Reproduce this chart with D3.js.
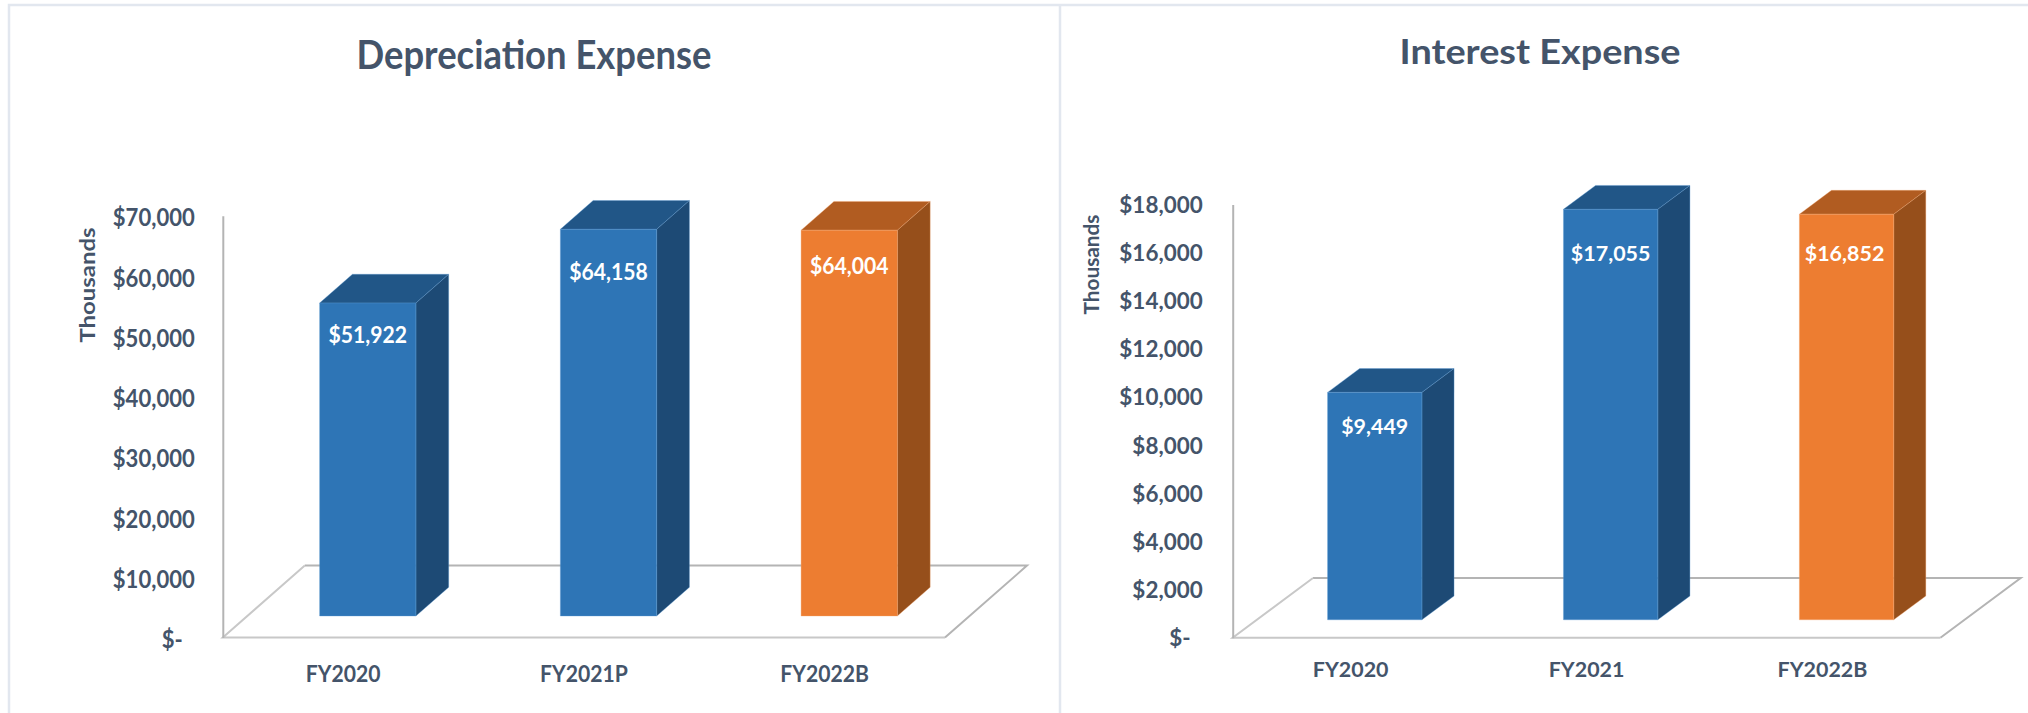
<!DOCTYPE html>
<html>
<head>
<meta charset="utf-8">
<script src="https://cdn.jsdelivr.net/npm/d3@7"></script>
<style>
  html, body { margin: 0; background: #fff; }
  svg { display: block; }
  text { font-family: Lato, "Open Sans", sans-serif; font-weight: 700; fill: #44546a; }
</style>
</head>
<body>
<div id="chart"></div>
<script>
const depreciationCategories = ["FY2020", "FY2021P", "FY2022B"];
const depreciationValues = [51922, 64158, 64004];
const depreciationTicks = [0, 10000, 20000, 30000, 40000, 50000, 60000, 70000];

const interestCategories = ["FY2020", "FY2021", "FY2022B"];
const interestValues = [9449, 17055, 16852];
const interestTicks = [0, 2000, 4000, 6000, 8000, 10000, 12000, 14000, 16000, 18000];

const width = 2028;
const height = 713;

const svg = d3.select("#chart").append("svg")
  .attr("width", width)
  .attr("height", height);

// panel border
const borderColor = "#e2e7ef";
svg.append("path")
  .attr("d", d3.line()([[9, height], [9, 5], [width, 5]]))
  .attr("fill", "none")
  .attr("stroke", borderColor)
  .attr("stroke-width", 2.5);
svg.append("line")
  .attr("x1", 1060).attr("x2", 1060)
  .attr("y1", 5).attr("y2", height)
  .attr("stroke", borderColor)
  .attr("stroke-width", 2.5);

const blue = { front: "#2e75b6", top: "#215687", side: "#1d4a75", edge: "#5b9bd5" };
const orange = { front: "#ed7d31", top: "#b15c21", side: "#964f1b", edge: "#f4a56f" };

const tickFormat = d => d === 0 ? "$-" : "$" + d3.format(",")(d);

// the reference text is stretched differently in each panel
const fitWidth = (selection, factor) => {
  selection.each(function() {
    d3.select(this)
      .attr("textLength", this.getComputedTextLength() * factor)
      .attr("lengthAdjust", "spacingAndGlyphs");
  });
};

const drawChart = (c) => {
  // the floor is a parallelogram, bars stand between 30% and 70% of its depth
  const xScale = d3.scaleBand()
    .domain(c.categories)
    .range([c.left, c.right])
    .paddingInner(0.6)
    .paddingOuter(0.3);

  const yScale = d3.scaleLinear()
    .domain([0, d3.max(c.ticks)])
    .range([c.bottom, c.top]);

  const g = svg.append("g");

  const floor = [
    [c.left, c.bottom],
    [c.left + c.depthX, c.bottom - c.depthY],
    [c.right + c.depthX, c.bottom - c.depthY],
    [c.right, c.bottom]
  ];
  g.append("path")
    .attr("d", d3.line()(floor.slice(1, 4)))
    .attr("fill", "none")
    .attr("stroke", "#b4b4b4")
    .attr("stroke-width", 2);
  g.append("path")
    .attr("d", d3.line()([floor[1], floor[0], floor[3]]))
    .attr("fill", "none")
    .attr("stroke", "#c8c8c8")
    .attr("stroke-width", 2);

  const yAxis = g.append("g")
    .attr("transform", `translate(${c.left},0)`)
    .call(d3.axisLeft(yScale)
      .tickValues(c.ticks)
      .tickFormat(tickFormat)
      .tickSize(0)
      .tickPadding(c.tickPad));
  yAxis.select(".domain")
    .attr("stroke", "#b4b4b4")
    .attr("stroke-width", 2);
  yAxis.selectAll("text")
    .attr("font-size", null)
    .style("font-size", c.textSize + "px")
    .attr("dy", c.tickDy)
    .attr("dx", d => d === 0 ? -12 : 0)
    .call(fitWidth, c.squeeze);

  const xAxis = g.append("g")
    .attr("transform", `translate(0,${c.bottom})`)
    .call(d3.axisBottom(xScale).tickSize(0).tickPadding(c.catPad));
  xAxis.select(".domain").remove();
  xAxis.selectAll("text")
    .style("font-size", c.catSize + "px")
    .call(fitWidth, c.squeeze);

  const frontX = d => xScale(d.cat) + c.depthX * 0.3;
  const barW = xScale.bandwidth();
  const ox = c.depthX * 0.4;
  const oy = c.depthY * 0.4;
  const base = -c.depthY * 0.3;

  const rows = c.categories.map((cat, i) => ({ cat, value: c.values[i], color: i === 2 ? orange : blue, i }));

  const bars = g.selectAll(".bar")
    .data(rows)
    .join("g")
      .attr("class", "bar");

  const faces = (d) => {
    const x0 = frontX(d);
    const x1 = x0 + barW;
    const yT = yScale(d.value) + base;
    const yB = yScale(0) + base;
    return {
      top: [[x0, yT], [x0 + ox, yT - oy], [x1 + ox, yT - oy], [x1, yT]],
      side: [[x1, yT], [x1 + ox, yT - oy], [x1 + ox, yB - oy], [x1, yB]],
      front: [[x0, yT], [x1, yT], [x1, yB], [x0, yB]]
    };
  };
  const closed = pts => d3.line()(pts) + "Z";

  ["top", "side", "front"].forEach(face => {
    bars.append("path")
      .attr("d", d => closed(faces(d)[face]))
      .attr("fill", d => d.color[face])
      .attr("stroke", d => d.color.edge)
      .attr("stroke-opacity", 0.35)
      .attr("stroke-width", 1)
      .attr("stroke-linejoin", "round");
  });

  bars.append("text")
    .attr("x", d => frontX(d) + barW / 2 + c.labelDx[d.i])
    .attr("y", d => yScale(d.value) + base + c.labelDy[d.i])
    .attr("dy", "0.35em")
    .attr("text-anchor", "middle")
    .style("font-size", (c.textSize - 1) + "px")
    .style("fill", "#fff")
    .text(d => "$" + d3.format(",")(d.value))
    .call(fitWidth, c.squeeze);

  g.append("text")
    .attr("x", c.titleX)
    .attr("y", c.titleY)
    .attr("text-anchor", "middle")
    .attr("textLength", c.titleLen)
    .attr("lengthAdjust", "spacingAndGlyphs")
    .style("font-size", c.titleSize + "px")
    .text(c.title);

  g.append("text")
    .attr("transform", `translate(${c.unitX},${c.unitY}) rotate(-90)`)
    .attr("text-anchor", "middle")
    .attr("dy", "0.35em")
    .attr("textLength", c.unitLen)
    .attr("lengthAdjust", "spacingAndGlyphs")
    .style("font-size", "20px")
    .text("Thousands");
};

drawChart({
  title: "Depreciation Expense",
  categories: depreciationCategories,
  values: depreciationValues,
  ticks: depreciationTicks,
  left: 222.8, right: 945, top: 215.7, bottom: 637.6,
  depthX: 82, depthY: 72,
  textSize: 24, squeeze: 0.92, tickDy: "0.42em",
  tickPad: 28, catPad: 28, catSize: 23,
  labelDx: [0, 0, 0], labelDy: [32, 43, 36],
  titleX: 534, titleY: 69, titleLen: 355, titleSize: 40,
  unitX: 88, unitY: 285, unitLen: 115
});

drawChart({
  title: "Interest Expense",
  categories: interestCategories,
  values: interestValues,
  ticks: interestTicks,
  left: 1232.7, right: 1940.4, top: 204.5, bottom: 637.7,
  depthX: 80.3, depthY: 59.7,
  textSize: 22, squeeze: 1.02, tickDy: "0.36em",
  tickPad: 30, catPad: 24, catSize: 21,
  labelDx: [0, 0, -2], labelDy: [34, 44, 39],
  titleX: 1540, titleY: 64, titleLen: 281, titleSize: 35,
  unitX: 1092, unitY: 264.5, unitLen: 100
});
</script>
</body>
</html>
